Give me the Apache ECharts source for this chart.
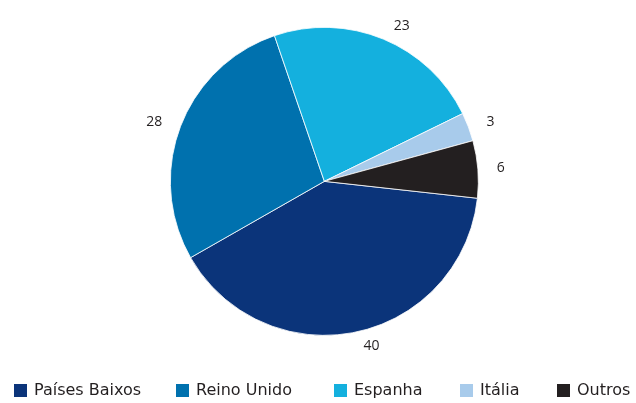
<!DOCTYPE html>
<html>
<head>
<meta charset="utf-8">
<script src="https://cdn.jsdelivr.net/npm/echarts@6/dist/echarts.min.js"></script>
<style>
  html, body { margin: 0; padding: 0; background: #fff; }
  #chart { width: 636px; height: 403px; }
</style>
</head>
<body>
<div id="chart"></div>
<script>
// categories + values (percent shares)
const categories = ['Países Baixos', 'Reino Unido', 'Espanha', 'Itália', 'Outros'];
const values     = [40, 28, 23, 3, 6];
const colors     = ['#0b347a', '#0071ae', '#14b0de', '#a8cbeb', '#231f20'];

const font = '"Open Sans", "Noto Sans", sans-serif';
const legendLeft = [12, 174, 332, 458, 555];   // legend entries sit in fixed columns

const chart = echarts.init(document.getElementById('chart'));

chart.setOption({
  backgroundColor: '#fff',
  animation: false,
  color: colors,
  legend: categories.map((name, i) => ({
    data: [name],
    top: 382, left: legendLeft[i], padding: 0,
    itemWidth: 15, itemHeight: 15,
    icon: 'rect',
    textStyle: { color: '#231f20', fontSize: 16, fontFamily: '"DejaVu Sans", sans-serif', padding: [0, 0, 0, 1] },
  })),
  series: [{
    type: 'pie',
    center: ['51%', '45%'],
    radius: 154,
    startAngle: -6.3,
    clockwise: true,
    avoidLabelOverlap: false,
    itemStyle: { borderColor: '#fff', borderWidth: 0.8 },
    label: {
      show: true, position: 'outside', formatter: '{c}',
      color: '#231f20', fontSize: 14, fontFamily: font,
    },
    labelLine: { show: false, length: 14, length2: 0 },
    emphasis: { disabled: true },
    data: categories.map((name, i) => ({ name, value: values[i] })),
  }],
});
</script>
</body>
</html>
